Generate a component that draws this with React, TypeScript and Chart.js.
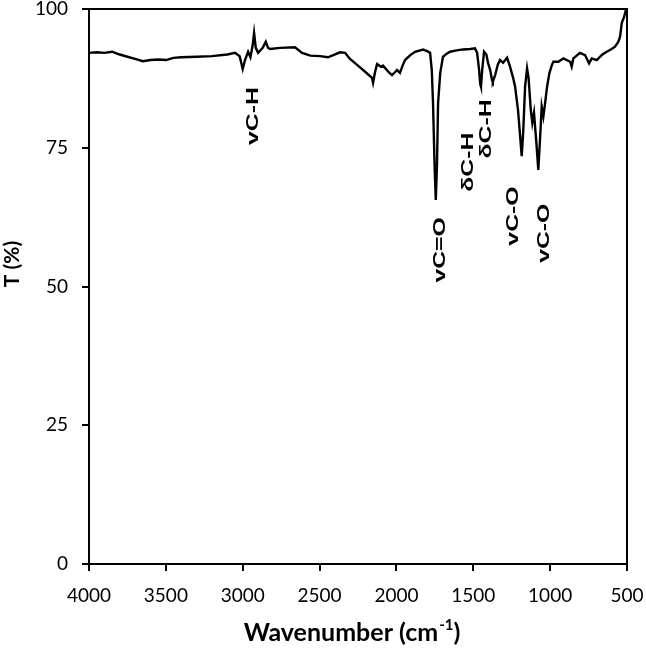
import React, { useEffect, useRef } from "react";
import { Chart, registerables } from "chart.js";

Chart.register(...registerables);

// Wavenumber (cm-1), descending
const wavenumbers = [
  4000, 3950, 3900, 3850, 3800, 3750, 3700, 3650, 3600, 3550, 3500, 3450, 3400, 3300, 3200, 3100,
  3050, 3020, 3000, 2985, 2965, 2950, 2935, 2926, 2915, 2900, 2870, 2850, 2835, 2822, 2757, 2660,
  2614, 2560, 2497, 2445, 2367, 2334, 2302, 2250, 2200, 2159, 2152, 2140, 2126, 2100, 2087, 2050,
  2029, 2010, 1996, 1977, 1960, 1944, 1910, 1879, 1827, 1800, 1781, 1770, 1762, 1752, 1744, 1736,
  1729, 1715, 1697, 1670, 1651, 1600, 1567, 1520, 1489, 1475, 1462, 1455, 1450, 1442, 1430, 1415,
  1404, 1390, 1378, 1373, 1358, 1340, 1326, 1306, 1280, 1261, 1240, 1228, 1209, 1195, 1185, 1175,
  1163, 1150, 1140, 1126, 1116, 1105, 1090, 1077, 1065, 1055, 1044, 1033, 1020, 1005, 990, 979,
  947, 914, 870, 860, 849, 806, 773, 747, 729, 697, 660, 632, 600, 578, 556, 545, 534, 520, 505,
];

// Transmittance (%)
const transmittance = [
  92.1, 92.2, 92.1, 92.3, 91.8, 91.4, 91.0, 90.6, 90.8, 90.9, 90.8, 91.2, 91.3, 91.4, 91.5, 91.8,
  92.1, 91.5, 89.2, 90.8, 92.3, 91.3, 93.5, 95.7, 93.0, 92.1, 93.0, 94.1, 93.0, 92.8, 93.0, 93.1,
  92.1, 91.6, 91.5, 91.3, 92.2, 92.1, 91.0, 89.8, 88.6, 87.6, 86.7, 88.5, 90.1, 89.6, 89.8, 88.6,
  88.1, 88.6, 89.0, 88.5, 89.8, 90.8, 91.7, 92.3, 92.7, 92.4, 92.1, 89.0, 83.1, 72.0, 65.6, 72.0,
  83.1, 88.5, 91.4, 92.0, 92.3, 92.6, 92.7, 92.8, 92.9, 92.1, 89.0, 86.5, 86.0, 89.0, 92.3, 91.8,
  90.3, 89.0, 87.2, 86.9, 88.1, 90.0, 90.8, 90.3, 91.2, 89.6, 87.5, 86.0, 81.8, 77.0, 73.5, 78.0,
  86.0, 89.3, 87.5, 81.8, 79.5, 81.3, 76.0, 71.0, 77.0, 82.4, 80.6, 83.0, 86.0, 88.4, 89.8, 90.5,
  90.5, 91.1, 90.5, 89.6, 91.1, 92.1, 91.7, 90.2, 91.1, 90.8, 91.8, 92.3, 92.8, 93.2, 94.1, 95.0,
  97.5, 98.5, 100,
];

const xTickValues = [4000, 3500, 3000, 2500, 2000, 1500, 1000, 500];
const yTickValues = [0, 25, 50, 75, 100];

const bandLabels = ["vC-H", "vC=O", "δC-H", "δC-H", "vC-O", "vC-O"];
const bandWavenumbers = [2926, 1712, 1530, 1414, 1235, 1033];
const bandLabelT = [80.7, 56.6, 72.4, 78.4, 62.7, 59.6];

const X_TITLE = "Wavenumber (cm";
const X_TITLE_SUP = "-1";
const Y_TITLE = "T (%)";

const framePlugin = {
  id: "frameAndText",
  afterDraw(chart: any) {
    const { ctx, chartArea, scales } = chart;
    ctx.save();
    // frame
    ctx.strokeStyle = "#000";
    ctx.lineWidth = 2;
    ctx.strokeRect(chartArea.left, chartArea.top, chartArea.right - chartArea.left, chartArea.bottom - chartArea.top);

    // band labels (rotated, stretched along their length)
    ctx.fillStyle = "#000";
    ctx.font = "bold 16px 'Liberation Sans', Arial, sans-serif";
    ctx.textAlign = "center";
    ctx.textBaseline = "middle";
    for (let i = 0; i < bandLabels.length; i++) {
      const x = scales.x.getPixelForValue(bandWavenumbers[i]);
      const y = scales.y.getPixelForValue(bandLabelT[i]);
      ctx.save();
      ctx.translate(x, y);
      ctx.rotate(-Math.PI / 2);
      ctx.scale(1.55, 1);
      ctx.fillText(bandLabels[i], 0, 0);
      ctx.restore();
    }

    // x title with superscript
    const cx = (chartArea.left + chartArea.right) / 2 - 6;
    const ty = 633;
    const mainFont = "bold 25px Lato, sans-serif";
    const supFont = "bold 15px Lato, sans-serif";
    ctx.font = mainFont;
    const w1 = ctx.measureText(X_TITLE).width;
    ctx.font = supFont;
    const w2 = ctx.measureText(X_TITLE_SUP).width;
    ctx.font = mainFont;
    const w3 = ctx.measureText(")").width;
    let sx = cx - (w1 + w2 + w3 + 1) / 2;
    ctx.textAlign = "left";
    ctx.textBaseline = "middle";
    ctx.fillText(X_TITLE, sx, ty);
    sx += w1;
    ctx.font = supFont;
    ctx.fillText(X_TITLE_SUP, sx + 1, ty - 8);
    sx += w2 + 1;
    ctx.font = mainFont;
    ctx.fillText(")", sx, ty);

    // y title
    ctx.save();
    ctx.font = "bold 21px Lato, sans-serif";
    ctx.translate(12, 264);
    ctx.rotate(-Math.PI / 2);
    ctx.textAlign = "center";
    ctx.textBaseline = "middle";
    ctx.fillText(Y_TITLE, 0, 0);
    ctx.restore();

    ctx.restore();
  },
};

const zeroPadding = (s: any) => {
  s.paddingTop = 0;
  s.paddingBottom = 0;
  s.paddingLeft = 0;
  s.paddingRight = 0;
};

export default function App() {
  const canvasRef = useRef<HTMLCanvasElement | null>(null);

  useEffect(() => {
    if (!canvasRef.current) return;
    const points = wavenumbers.map((w, i) => ({ x: w, y: transmittance[i] }));
    const chart = new Chart(canvasRef.current, {
      type: "line",
      data: {
        datasets: [
          {
            data: points,
            borderColor: "#000",
            borderWidth: 2.4,
            pointRadius: 0,
            tension: 0,
            fill: false,
          },
        ],
      },
      options: {
        animation: false,
        responsive: true,
        maintainAspectRatio: false,
        layout: { padding: { top: 9, right: 19, left: 0, bottom: 0 } },
        plugins: { legend: { display: false }, tooltip: { enabled: false } },
        scales: {
          x: {
            type: "linear",
            reverse: true,
            min: 500,
            max: 4000,
            afterBuildTicks: (axis: any) => {
              axis.ticks = xTickValues.map((v) => ({ value: v }));
            },
            afterFit: (s: any) => {
              s.height = 86;
              zeroPadding(s);
            },
            grid: { display: true, drawOnChartArea: false, drawTicks: true, tickLength: 7, color: "#000", lineWidth: 2 },
            border: { display: true, color: "#000", width: 2 },
            ticks: {
              color: "#000",
              font: { family: "Lato", size: 19 },
              padding: 13,
              maxRotation: 0,
              autoSkip: false,
              callback: (v: any) => String(v),
            },
          },
          y: {
            type: "linear",
            min: 0,
            max: 100,
            afterBuildTicks: (axis: any) => {
              axis.ticks = yTickValues.map((v) => ({ value: v }));
            },
            afterFit: (s: any) => {
              s.width = 89;
              zeroPadding(s);
            },
            grid: { display: true, drawOnChartArea: false, drawTicks: true, tickLength: 7, color: "#000", lineWidth: 2 },
            border: { display: true, color: "#000", width: 2 },
            ticks: {
              color: "#000",
              font: { family: "Lato", size: 19, lineHeight: 0.8 },
              padding: 14,
              autoSkip: false,
              callback: (v: any) => String(v),
            },
          },
        },
      },
      plugins: [framePlugin],
    });
    return () => chart.destroy();
  }, []);

  return (
    <div style={{ position: "absolute", left: 0, top: 0, width: 646, height: 650, background: "#fff" }}>
      <canvas ref={canvasRef} />
    </div>
  );
}
